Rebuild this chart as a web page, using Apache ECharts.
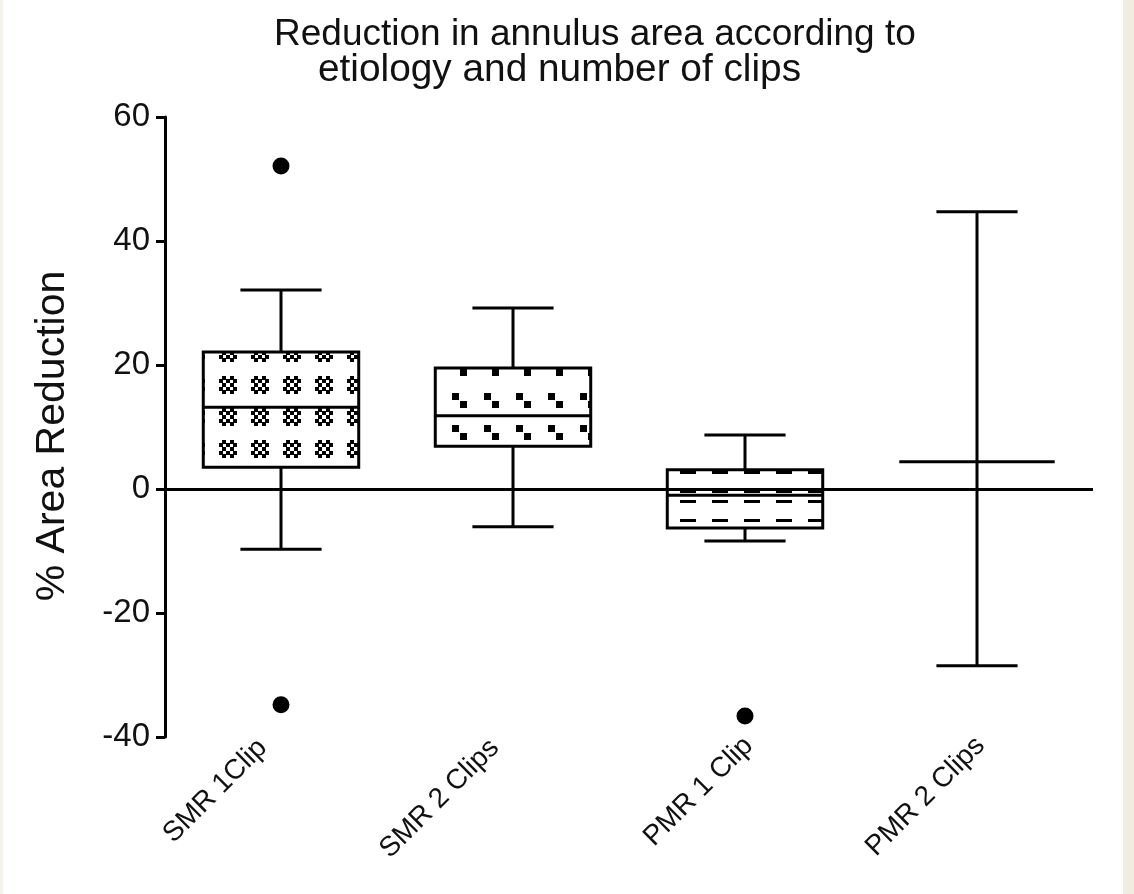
<!DOCTYPE html>
<html>
<head>
<meta charset="utf-8">
<title>Reduction in annulus area</title>
<script src="https://cdn.jsdelivr.net/npm/echarts@6/dist/echarts.min.js"></script>
<style>
  html, body { margin: 0; padding: 0; background: #ffffff; }
  #chart { width: 1134px; height: 894px; }
</style>
</head>
<body>
<div id="chart"></div>
<script>
// Groups on the category axis
const categories = ['SMR 1Clip', 'SMR 2 Clips', 'PMR 1 Clip', 'PMR 2 Clips'];

// Box-and-whisker statistics per group (% area reduction)
const whiskerLow  = [-9.7, -6.1, -8.4, -28.5];
const quartile1   = [3.5, 6.9, -6.3, 4.4];
const medians     = [13.2, 11.8, -1.0, 4.4];
const quartile3   = [22.1, 19.5, 3.1, 4.4];
const whiskerHigh = [32.1, 29.2, 8.7, 44.7];

// Individual points outside the whiskers
const outlierGroup  = [0, 0, 2];
const outlierValues = [52.1, -34.8, -36.6];

// Value-axis ticks
const yTickValues = [-40, -20, 0, 20, 40, 60];

const FONT = "'Liberation Sans', Arial, Helvetica, sans-serif";

// ---- hatch fills for the boxes (tiles repeat from the canvas origin) ----
function makeTile(w, h, draw) {
  const c = document.createElement('canvas');
  c.width = w; c.height = h;
  const ctx = c.getContext('2d');
  ctx.fillStyle = '#000';
  draw(ctx, w, h);
  return { image: c, repeat: 'repeat' };
}
function wrapRect(ctx, x, y, rw, rh, w, h) {
  for (const dx of [-w, 0, w]) {
    for (const dy of [-h, 0, h]) ctx.fillRect(x + dx, y + dy, rw, rh);
  }
}
// star-like clusters of tiny dots
const clusterFill = makeTile(32, 32, (ctx, w, h) => {
  const cx = 4, cy = 1, step = 3.6;
  for (let r = 0; r < 5; r++) {
    for (let c = 0; c < 5; c++) {
      if ((r + c) % 2 === 1) {
        wrapRect(ctx, Math.round(cx + (c - 2) * step - 2), Math.round(cy + (r - 2) * step - 2), 4, 4, w, h);
      }
    }
  }
});
// diagonal pairs of squares
const squareFill = makeTile(32, 32, (ctx, w, h) => {
  wrapRect(ctx, 4, 9, 7, 7, w, h);
  wrapRect(ctx, 12, 17, 7, 7, w, h);
});
// horizontal dashes
const dashFill = makeTile(32, 29, (ctx, w, h) => {
  wrapRect(ctx, 8, 7, 16, 3, w, h);
  wrapRect(ctx, 8, 26, 16, 3, w, h);
});
const boxFills = [clusterFill, squareFill, dashFill, null];

const boxData = categories.map((_, i) =>
  [i, whiskerLow[i], quartile1[i], medians[i], quartile3[i], whiskerHigh[i]]);
const outlierData = outlierGroup.map((g, k) => [g, outlierValues[k]]);

// slanted tick labels: the two PMR labels sit a little further right
const labelStyles = [
  { verticalAlign: 'bottom', padding: [0, 12, 0, 0] },
  { verticalAlign: 'bottom', padding: [0, 12, 0, 0] },
  { verticalAlign: 'middle', padding: [15, -5, 0, 0] },
  { verticalAlign: 'middle', padding: [15, -5, 0, 0] }
];
const axisCategories = categories.map((name, i) => ({
  value: name,
  textStyle: labelStyles[i]
}));

function renderBox(params, api) {
  const idx = api.value(0);
  const lo = api.value(1), q1 = api.value(2), md = api.value(3), q3 = api.value(4), hi = api.value(5);
  const band = api.size([1, 0])[0];
  const cx = api.coord([idx, md])[0];
  const py = v => api.coord([idx, v])[1];
  const boxHalf = band * 0.335;
  const capHalf = band * 0.175;
  const stroke = { stroke: '#000', lineWidth: 3, lineCap: 'butt' };
  const line = (x1, y1, x2, y2) => ({ type: 'line', shape: { x1, y1, x2, y2 }, style: stroke });
  const children = [
    line(cx, py(q3), cx, py(hi)),
    line(cx, py(q1), cx, py(lo)),
    line(cx - capHalf, py(hi), cx + capHalf, py(hi)),
    line(cx - capHalf, py(lo), cx + capHalf, py(lo))
  ];
  if (q3 > q1) {
    children.push({
      type: 'rect',
      shape: { x: cx - boxHalf, y: py(q3), width: boxHalf * 2, height: py(q1) - py(q3) },
      style: { fill: boxFills[idx] || 'none', stroke: '#000', lineWidth: 3 }
    });
  }
  children.push(line(cx - boxHalf, py(md), cx + boxHalf, py(md)));
  return { type: 'group', children };
}

const chart = echarts.init(document.getElementById('chart'), null, { renderer: 'canvas' });
chart.setOption({
  animation: false,
  backgroundColor: '#ffffff',
  title: [
    {
      text: 'Reduction in annulus area according to',
      left: 269, top: 11,
      textStyle: { fontFamily: FONT, fontSize: 37, fontWeight: 'normal', color: '#111' }
    },
    {
      text: 'etiology and number of clips',
      left: 313, top: 46,
      textStyle: { fontFamily: FONT, fontSize: 38.8, fontWeight: 'normal', color: '#111' }
    }
  ],
  graphic: [
    { type: 'rect', right: 0, top: 0, shape: { width: 11, height: 894 }, style: { fill: '#f0ede0' }, silent: true },
    { type: 'rect', left: 0, top: 0, shape: { width: 3, height: 894 }, style: { fill: '#f5f3ea' }, silent: true }
  ],
  grid: { left: 165, right: 41, top: 117, bottom: 157 },
  xAxis: {
    type: 'category',
    data: axisCategories,
    axisLine: { show: false },
    axisTick: { show: false },
    splitLine: { show: false },
    axisLabel: {
      interval: 0,
      rotate: 45,
      margin: 8,
      fontFamily: FONT,
      fontSize: 28,
      color: '#111'
    }
  },
  yAxis: {
    type: 'value',
    min: yTickValues[0],
    max: yTickValues[yTickValues.length - 1],
    interval: yTickValues[1] - yTickValues[0],
    name: '% Area Reduction',
    nameLocation: 'middle',
    nameGap: 92,
    nameTextStyle: { fontFamily: FONT, fontSize: 41, color: '#111', padding: [0, 18, 0, 0] },
    axisLine: { show: true, lineStyle: { color: '#000', width: 3 } },
    axisTick: { show: true, length: 9, lineStyle: { color: '#000', width: 3 } },
    splitLine: { show: false },
    axisLabel: { fontFamily: FONT, fontSize: 33, color: '#111', margin: 15 }
  },
  series: [
    {
      type: 'custom',
      name: 'boxes',
      renderItem: renderBox,
      data: boxData,
      encode: { x: 0, y: [1, 2, 3, 4, 5] },
      silent: true,
      z: 3
    },
    {
      type: 'scatter',
      name: 'outliers',
      data: outlierData,
      symbol: 'circle',
      symbolSize: 17,
      itemStyle: { color: '#000', opacity: 1 },
      silent: true,
      z: 4,
      markLine: {
        silent: true,
        symbol: ['none', 'none'],
        label: { show: false },
        lineStyle: { color: '#000', width: 3, type: 'solid', opacity: 1 },
        emphasis: { disabled: true },
        data: [{ yAxis: 0 }]
      }
    }
  ]
});
</script>
</body>
</html>
